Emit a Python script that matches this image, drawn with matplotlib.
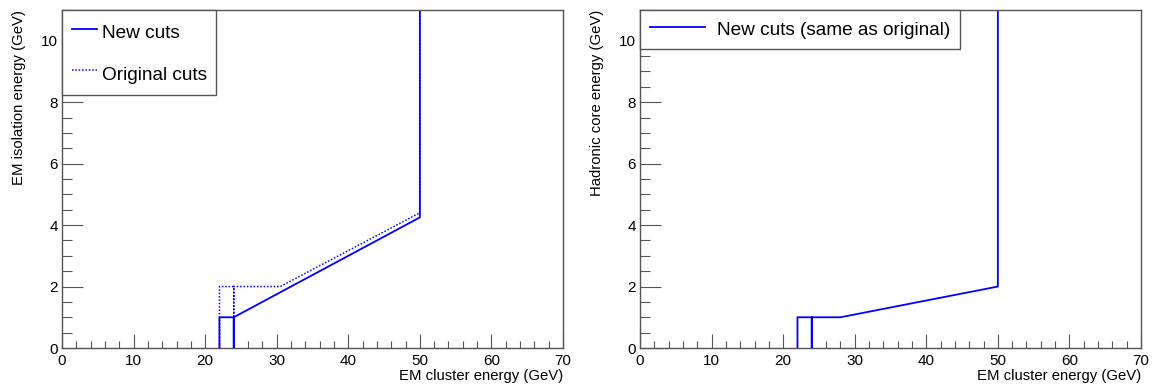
import matplotlib
matplotlib.use('Agg')
import matplotlib.pyplot as plt
from matplotlib.ticker import MultipleLocator

plt.rcParams['font.family'] = ['Liberation Sans', 'DejaVu Sans']

# left panel: EM isolation cut
iso_new_x = [22, 22, 24, 24, 24, 50, 50]
iso_new_y = [0, 1, 1, 0, 1, 4.25, 11]
iso_orig_x = [22, 22, 24, 24, 24, 30.5, 50, 50]
iso_orig_y = [0, 2, 2, 0, 2, 2, 4.4, 11]

# right panel: hadronic core cut
had_new_x = [22, 22, 24, 24, 24, 28, 50, 50]
had_new_y = [0, 1, 1, 0, 1, 1, 2, 11]

xlabel = 'EM cluster energy (GeV)'
ylabels = ['EM isolation energy (GeV)', 'Hadronic core energy (GeV)']

frame = '#555555'
blue = '#0000ff'

fig = plt.figure(figsize=(11.53, 3.85), dpi=100)
ax1 = fig.add_axes([62 / 1153, 37 / 385, 501 / 1153, 338 / 385])
ax2 = fig.add_axes([640 / 1153, 37 / 385, 501 / 1153, 338 / 385])


def style(ax, ylabel):
    ax.set_xlim(0, 70)
    ax.set_ylim(0, 11)
    ax.xaxis.set_major_locator(MultipleLocator(10))
    ax.xaxis.set_minor_locator(MultipleLocator(2))
    ax.yaxis.set_major_locator(MultipleLocator(2))
    ax.yaxis.set_minor_locator(MultipleLocator(0.5))
    ax.tick_params(which='both', direction='in', color=frame, labelsize=11, width=0.8)
    ax.tick_params(axis='x', which='major', length=10, pad=4)
    ax.tick_params(axis='x', which='minor', length=5)
    ax.tick_params(axis='y', which='major', length=15, pad=3)
    ax.tick_params(axis='y', which='minor', length=7)
    for s in ax.spines.values():
        s.set_color(frame)
        s.set_linewidth(1.0)
    ax.set_xlabel(xlabel, fontsize=10.7, loc='right', labelpad=1)
    ax.set_ylabel(ylabel, fontsize=10.7, loc='top', labelpad=11)


ax1.plot(iso_orig_x, iso_orig_y, color=blue, lw=1.1, ls=(0, (1, 1.2)), label='Original cuts')
ax1.plot(iso_new_x, iso_new_y, color=blue, lw=1.3, label='New cuts')
style(ax1, ylabels[0])
h, l = ax1.get_legend_handles_labels()
leg = ax1.legend(h[::-1], l[::-1], loc='upper left', bbox_to_anchor=(0, 1), borderaxespad=0,
                 fancybox=False, edgecolor=frame, framealpha=1, fontsize=13.7,
                 handlelength=1.35, handleheight=1.6, handletextpad=0.25,
                 labelspacing=0.9, borderpad=0.5)
leg.get_frame().set_linewidth(1.0)

ax2.plot(had_new_x, had_new_y, color=blue, lw=1.3, label='New cuts (same as original)')
style(ax2, ylabels[1])
leg = ax2.legend(loc='upper left', bbox_to_anchor=(0, 1), borderaxespad=0,
                 fancybox=False, edgecolor=frame, framealpha=1, fontsize=13.7,
                 handlelength=2.9, handleheight=1.1, handletextpad=0.65, borderpad=0.5)
leg.get_frame().set_linewidth(1.0)

fig.savefig('out.png', dpi=100)
